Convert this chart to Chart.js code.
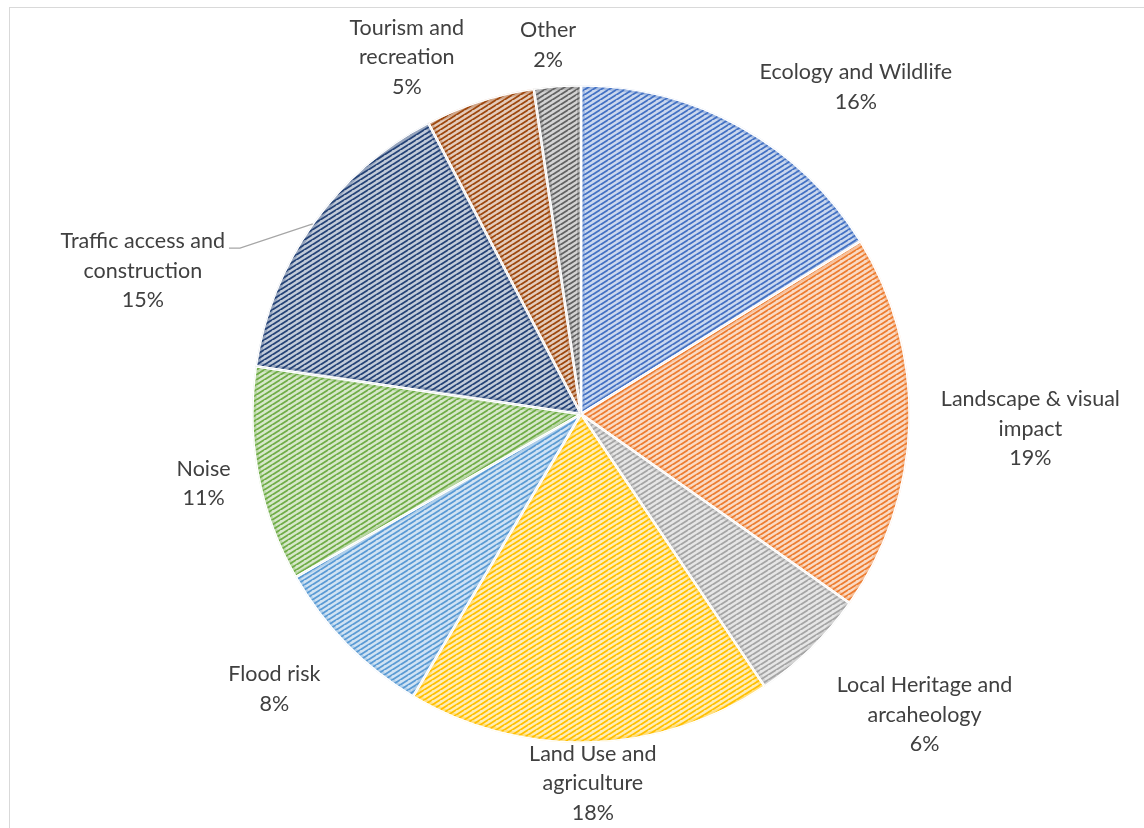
<!DOCTYPE html>
<html>
<head>
<meta charset="utf-8">
<script src="https://cdn.jsdelivr.net/npm/chart.js@4.4.1/dist/chart.umd.min.js"></script>
<style>
    html, body { margin: 0; padding: 0; background: #fff; overflow: hidden; }
    #frame {
        position: absolute; left: 9px; top: 7px;
        width: 1300px; height: 1000px;
        border: 1px solid #d9d9d9;
    }
    #wrap { position: absolute; left: 0; top: 0; width: 1144px; height: 828px; }
</style>
</head>
<body>
<div id="frame"></div>
<div id="wrap"><canvas id="pieChart" width="1144" height="828"></canvas></div>
<script>
// shares (percent)
const categories = ['Ecology and Wildlife', 'Landscape & visual impact', 'Local Heritage and arcaheology',
    'Land Use and agriculture', 'Flood risk', 'Noise', 'Traffic access and construction',
    'Tourism and recreation', 'Other'];
const shares = [16.2, 18.6, 5.8, 18.0, 8.2, 10.6, 15.0, 5.4, 2.3];
const colors = ['#4472C4', '#ED7D31', '#A5A5A5', '#FFC000', '#5B9BD5', '#70AD47', '#264478', '#9E480E', '#636363'];

// how Excel wrapped each label
const labelLines = [
    ['Ecology and Wildlife'],
    ['Landscape & visual', 'impact'],
    ['Local Heritage and', 'arcaheology'],
    ['Land Use and', 'agriculture'],
    ['Flood risk'],
    ['Noise'],
    ['Traffic access and', 'construction'],
    ['Tourism and', 'recreation'],
    ['Other']
];
// label block centre relative to pie centre, in radius units
const labelOffsets = [
    [0.836, -0.995], [1.367, 0.045], [1.045, 0.915], [0.036, 1.124], [-0.933, 0.836],
    [-1.148, 0.211], [-1.333, -0.436], [-0.530, -1.085], [-0.100, -1.123]
];

function mix(hex, t) {
    const n = parseInt(hex.slice(1), 16);
    const r = (n >> 16) & 255, g = (n >> 8) & 255, b = n & 255;
    const m = c => Math.round(c + (255 - c) * t);
    return `rgb(${m(r)},${m(g)},${m(b)})`;
}

function makePattern(hex) {
    const tile = document.createElement('canvas');
    tile.width = 8;
    tile.height = 5;
    const c = tile.getContext('2d');
    c.fillStyle = mix(hex, 0.72);
    c.fillRect(0, 0, 8, 5);
    c.strokeStyle = hex;
    c.lineWidth = 1.9;
    c.beginPath();
    for (let k = -1; k <= 1; k++) {
        c.moveTo(-8 + k * 8, 10);
        c.lineTo(8 + k * 8, 0);
    }
    c.stroke();
    return c.createPattern(tile, 'repeat');
}

const total = shares.reduce((s, v) => s + v, 0);

const edgePlugin = {
    id: 'softEdges',
    afterDatasetsDraw(chart) {
        const ctx = chart.ctx;
        const arcs = chart.getDatasetMeta(0).data;
        ctx.save();
        arcs.forEach((a, i) => {
            ctx.save();
            ctx.beginPath();
            ctx.moveTo(a.x, a.y);
            ctx.arc(a.x, a.y, a.outerRadius, a.startAngle, a.endAngle);
            ctx.closePath();
            ctx.clip();
            ctx.globalAlpha = 0.28;
            ctx.strokeStyle = colors[i];
            ctx.lineWidth = 8;
            ctx.stroke();
            ctx.globalAlpha = 1;
            ctx.strokeStyle = '#ffffff';
            ctx.lineWidth = 2.5;
            ctx.stroke();
            ctx.restore();
        });
        ctx.restore();
    }
};

const labelPlugin = {
    id: 'outsideLabels',
    afterDatasetsDraw(chart) {
        const ctx = chart.ctx;
        const arcs = chart.getDatasetMeta(0).data;
        const cx = arcs[0].x, cy = arcs[0].y, r = arcs[0].outerRadius;
        const lineH = 29.5;
        ctx.save();
        ctx.font = '21.5px Lato';
        ctx.fillStyle = '#404040';
        ctx.textAlign = 'center';
        ctx.textBaseline = 'middle';
        labelLines.forEach((lines, i) => {
            const all = lines.concat([Math.round(shares[i] / total * 100) + '%']);
            const bx = cx + labelOffsets[i][0] * r;
            const by = cy + labelOffsets[i][1] * r;
            const top = by - (all.length - 1) * lineH / 2;
            all.forEach((t, j) => ctx.fillText(t, bx, top + j * lineH));
        });

        // leader line for Traffic
        const i = 6;
        const a = arcs[i];
        const mid = (a.startAngle + a.endAngle) / 2;
        const px = cx + Math.cos(mid) * r, py = cy + Math.sin(mid) * r;
        const firstTop = cy + labelOffsets[i][1] * r - lineH;
        const w = ctx.measureText(labelLines[i][0]).width;
        const lx = cx + labelOffsets[i][0] * r + w / 2 + 4;
        const ly = firstTop + 7;
        ctx.strokeStyle = '#a6a6a6';
        ctx.lineWidth = 1.2;
        ctx.beginPath();
        ctx.moveTo(lx, ly);
        ctx.lineTo(lx + 11, ly);
        ctx.lineTo(px, py);
        ctx.stroke();
        ctx.restore();
    }
};

new Chart(document.getElementById('pieChart'), {
    type: 'pie',
    data: {
        labels: categories,
        datasets: [{
            data: shares,
            backgroundColor: colors.map(makePattern),
            borderColor: '#ffffff',
            borderWidth: 2.5,
            hoverOffset: 0
        }]
    },
    options: {
        responsive: false,
        animation: false,
        layout: { padding: { left: 251, right: 233, top: 84, bottom: 84 } },
        plugins: {
            legend: { display: false },
            tooltip: { enabled: false }
        }
    },
    plugins: [edgePlugin, labelPlugin]
});
</script>
</body>
</html>
